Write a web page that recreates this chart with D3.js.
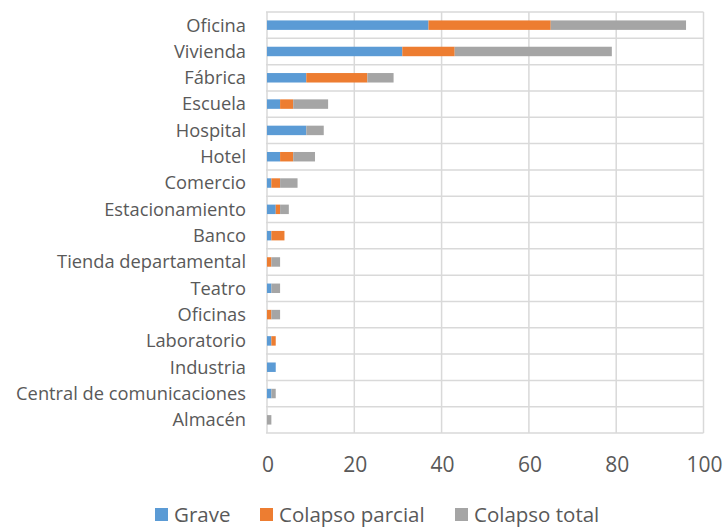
<!DOCTYPE html>
<html>
<head>
    <meta charset="UTF-8">
    <title>Daños por tipo de edificio</title>
    <script src="https://d3js.org/d3.v7.min.js"></script>
    <style>
        body { margin: 0; background: #fff; }
        text { font-family: "Open Sans", sans-serif; fill: #595959; }
    </style>
</head>
<body>
    <svg class="chart"></svg>

    <script>
    // data
    const categories = ["Oficina", "Vivienda", "Fábrica", "Escuela", "Hospital", "Hotel", "Comercio",
        "Estacionamiento", "Banco", "Tienda departamental", "Teatro", "Oficinas", "Laboratorio",
        "Industria", "Central de comunicaciones", "Almacén"];
    const grave          = [37, 31, 9, 3, 9, 3, 1, 2, 1, 0, 1, 0, 1, 2, 1, 0];
    const colapsoParcial = [28, 12, 14, 3, 0, 3, 2, 1, 3, 1, 0, 1, 1, 0, 0, 0];
    const colapsoTotal   = [31, 36, 6, 8, 4, 5, 4, 2, 0, 2, 2, 2, 0, 0, 1, 1];
    const seriesNames = ["Grave", "Colapso parcial", "Colapso total"];
    const xTicks = [0, 20, 40, 60, 80, 100];

    const colors = ["#5B9BD5", "#ED7D31", "#A5A5A5"];
    const W = 723, H = 529;
    const margins = {top: 12, left: 267, right: 19.5, bottom: 96};
    const width = W - margins.left - margins.right;
    const height = H - margins.top - margins.bottom;

    const svg = d3.select(".chart")
        .attr("width", W)
        .attr("height", H);

    const chart = svg.append("g")
        .attr("transform", `translate(${margins.left}, ${margins.top})`);

    const rows = categories.map((c, i) => ({
        cat: c, "Grave": grave[i], "Colapso parcial": colapsoParcial[i], "Colapso total": colapsoTotal[i]
    }));
    const stacked = d3.stack().keys(seriesNames)(rows);

    const x_scale = d3.scaleLinear().domain([0, 100]).range([0, width]);
    const y_band = d3.scaleBand().domain(categories).range([0, height]);
    const y_bar = d3.scaleBand().domain(categories).range([0, height]).paddingInner(0.64).paddingOuter(0.32);

    // vertical gridlines
    chart.selectAll(".vgrid")
        .data(xTicks).enter().append("line")
        .attr("x1", d => x_scale(d)).attr("x2", d => x_scale(d))
        .attr("y1", 0).attr("y2", height)
        .style("stroke", "#D9D9D9").style("stroke-width", 1.5);

    // horizontal category separators
    const seps = categories.map(c => y_band(c)).concat([height]);
    chart.selectAll(".hgrid")
        .data(seps).enter().append("line")
        .attr("x1", -1).attr("x2", width)
        .attr("y1", d => d).attr("y2", d => d)
        .style("stroke", "#D9D9D9").style("stroke-width", 1.5);

    // bars
    chart.selectAll(".series")
        .data(stacked).enter().append("g")
        .style("fill", (d, i) => colors[i])
        .selectAll("rect")
        .data(d => d).enter().append("rect")
        .attr("x", d => x_scale(d[0]))
        .attr("width", d => x_scale(d[1]) - x_scale(d[0]))
        .attr("y", d => y_bar(d.data.cat))
        .attr("height", y_bar.bandwidth());

    // category labels
    chart.selectAll(".cat")
        .data(categories).enter().append("text")
        .attr("x", -21)
        .attr("y", d => y_band(d) + y_band.bandwidth() / 2)
        .attr("dy", "0.35em")
        .attr("text-anchor", "end")
        .style("font-size", "18.3px")
        .text(d => d);

    // x tick labels
    chart.selectAll(".tick")
        .data(xTicks).enter().append("text")
        .attr("x", d => x_scale(d) + 1)
        .attr("y", height + 32)
        .attr("dy", "0.35em")
        .attr("text-anchor", "middle")
        .style("font-size", "21px")
        .text(d => d);

    // legend
    const legendX = [155, 260, 455];
    const legend = svg.selectAll(".legend")
        .data(seriesNames).enter().append("g")
        .attr("transform", (d, i) => `translate(${legendX[i]}, 514.5)`);
    legend.append("rect")
        .attr("x", 0).attr("y", -6.5)
        .attr("width", 13).attr("height", 13)
        .style("fill", (d, i) => colors[i]);
    legend.append("text")
        .attr("x", 19)
        .attr("dy", "0.35em")
        .style("font-size", "20.5px")
        .text(d => d);
    </script>
</body>
</html>
